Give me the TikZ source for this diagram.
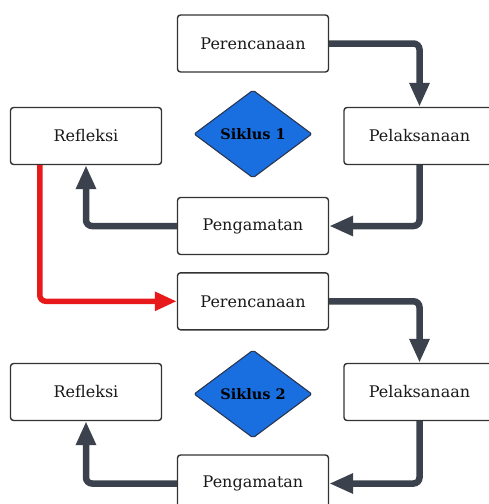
\documentclass[tikz,border=0pt]{standalone}
\usepackage{fontspec}
\setmainfont{DejaVu Serif}
\usetikzlibrary{arrows.meta,shapes.geometric}
\definecolor{arrowdark}{HTML}{3B424D}
\definecolor{boxline}{HTML}{333333}
\definecolor{diafill}{HTML}{1A6FE0}
\definecolor{diaborder}{HTML}{2A3550}
\definecolor{redline}{HTML}{E8191B}
\tikzset{
  stepbox/.style={draw=boxline, line width=1.4pt, rounded corners=3pt, fill=white,
    minimum width=151pt, minimum height=57pt, inner sep=0pt,
    font=\fontsize{16}{18}\selectfont, text=black!90},
  cyclebox/.style={diamond, draw=diaborder, line width=1.1pt, fill=diafill, rounded corners=2pt,
    minimum width=118pt, minimum height=88pt, inner sep=0pt,
    font=\fontsize{14.5}{16}\selectfont\bfseries, text=black},
  flow/.style={draw=arrowdark, line width=6.5pt, rounded corners=6pt,
    -{Triangle[length=24pt,width=19pt]}},
  redflow/.style={draw=redline, line width=5.5pt, rounded corners=6pt,
    -{Triangle[length=22pt,width=18pt]}}
}
\begin{document}
\begin{tikzpicture}[x=1pt,y=-1pt]
\useasboundingbox (0,0) rectangle (488,504);
% cycle 1
\node[stepbox] (per1) at (253,43.5) {Perencanaan};
\node[stepbox] (ref1) at (86,136) {Refleksi};
\node[stepbox] (pel1) at (419.5,136) {Pelaksanaan};
\node[cyclebox] (dia1) at (253,134) {Siklus 1};
\node[stepbox] (pen1) at (253,226) {Pengamatan};
% cycle 2
\node[stepbox] (per2) at (253,301.3) {Perencanaan};
\node[stepbox] (ref2) at (86,392) {Refleksi};
\node[stepbox] (pel2) at (419.5,392) {Pelaksanaan};
\node[cyclebox] (dia2) at (253,394) {Siklus 2};
\node[stepbox] (pen2) at (253,483.5) {Pengamatan};
% connectors
\draw[flow] (per1.east) -| (pel1.north);
\draw[flow] (pel1.south) |- (pen1.east);
\draw[flow] (pen1.west) -| (ref1.south);
\draw[redflow] ([xshift=30pt]ref1.south west) |- (per2.west);
\draw[flow] (per2.east) -| (pel2.north);
\draw[flow] (pel2.south) |- (pen2.east);
\draw[flow] (pen2.west) -| (ref2.south);
\end{tikzpicture}
\end{document}
